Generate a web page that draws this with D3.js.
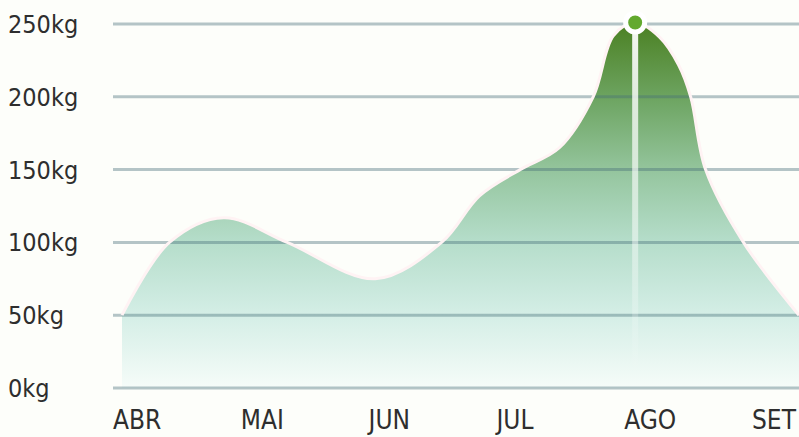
<!DOCTYPE html>
<html>
<head>
<meta charset="utf-8">
<script src="https://cdn.jsdelivr.net/npm/d3@7"></script>
<style>
  html, body { margin: 0; padding: 0; background: #fdfefa; }
  svg { display: block; }
  text { font-family: "DejaVu Sans Condensed", "DejaVu Sans", sans-serif; fill: #2e2e2e; }
</style>
</head>
<body>
<svg id="chart"></svg>
<script>
const months = ["ABR", "MAI", "JUN", "JUL", "AGO", "SET"];
const yTicks = [0, 50, 100, 150, 200, 250];
// position along the month axis (0 = ABR, 5 = SET) and weight in kg
const pos = [0, 0.35, 0.75, 1.22, 1.87, 2.36, 2.64, 2.94, 3.23, 3.48, 3.63, 3.79, 3.97, 4.11, 4.2, 4.31, 4.59, 5];
const kg  = [50, 100, 117, 100, 75, 100, 132, 150, 165, 200, 242, 251, 241, 222, 200, 150, 100, 50];

const data = pos.map((p, i) => ({ p, kg: kg[i] }));

const width = 799, height = 437;
const svg = d3.select("#chart").attr("width", width).attr("height", height);

const y = d3.scaleLinear().domain([0, 250]).range([388, 24]);
const x = d3.scaleLinear().domain([0, 5]).range([122, 799]);
const xLabel = d3.scalePoint().domain(months).range([113, 752]);

const defs = svg.append("defs");
const grad = defs.append("linearGradient")
  .attr("id", "fillGrad")
  .attr("gradientUnits", "userSpaceOnUse")
  .attr("x1", 0).attr("x2", 0)
  .attr("y1", y(252)).attr("y2", y(0));
[[0, "#4a7f21"], [0.22, "#6fa664"], [0.42, "#97c7a1"], [0.6, "#b5ddca"], [0.8, "#d4eee6"], [1, "#f6fcf9"]]
  .forEach(([o, c]) => grad.append("stop").attr("offset", o).attr("stop-color", c));

const vGrad = defs.append("linearGradient")
  .attr("id", "vGrad")
  .attr("x1", 0).attr("x2", 0).attr("y1", 0).attr("y2", 1);
vGrad.append("stop").attr("offset", 0).attr("stop-color", "#fff").attr("stop-opacity", 0.95);
vGrad.append("stop").attr("offset", 0.6).attr("stop-color", "#fff").attr("stop-opacity", 0.5);
vGrad.append("stop").attr("offset", 1).attr("stop-color", "#fff").attr("stop-opacity", 0);

const curve = d3.curveCatmullRom.alpha(0.5);

const area = d3.area()
  .x(d => x(d.p))
  .y0(y(0))
  .y1(d => y(d.kg))
  .curve(curve);

const line = d3.line()
  .x(d => x(d.p))
  .y(d => y(d.kg))
  .curve(curve);

svg.append("path")
  .datum(data)
  .attr("fill", "url(#fillGrad)")
  .attr("d", area);

// grid lines over the fill
svg.append("g")
  .selectAll("line")
  .data(yTicks)
  .join("line")
  .attr("x1", 113).attr("x2", width)
  .attr("y1", d => y(d)).attr("y2", d => y(d))
  .attr("stroke", "rgba(70,110,120,0.4)")
  .attr("stroke-width", 3);

svg.append("path")
  .datum(data)
  .attr("fill", "none")
  .attr("stroke", "#fff3f4")
  .attr("stroke-width", 3)
  .attr("d", line);

// y labels
svg.append("g")
  .selectAll("text")
  .data(yTicks)
  .join("text")
  .attr("x", 8)
  .attr("y", d => y(d) + 9)
  .attr("font-size", 25)
  .text(d => d + "kg");

// x labels
svg.append("g")
  .selectAll("text")
  .data(months)
  .join("text")
  .attr("x", d => xLabel(d))
  .attr("y", 429)
  .attr("font-size", 26)
  .text(d => d);

// peak marker
const peak = data.reduce((a, b) => (b.kg > a.kg ? b : a));
svg.append("rect")
  .attr("x", x(peak.p) - 3)
  .attr("y", y(peak.kg))
  .attr("width", 6)
  .attr("height", y(10) - y(peak.kg))
  .attr("fill", "url(#vGrad)");

svg.append("circle")
  .attr("cx", x(peak.p))
  .attr("cy", y(peak.kg))
  .attr("r", 9.5)
  .attr("fill", "#63a92f")
  .attr("stroke", "#fff")
  .attr("stroke-width", 5);
</script>
</body>
</html>
